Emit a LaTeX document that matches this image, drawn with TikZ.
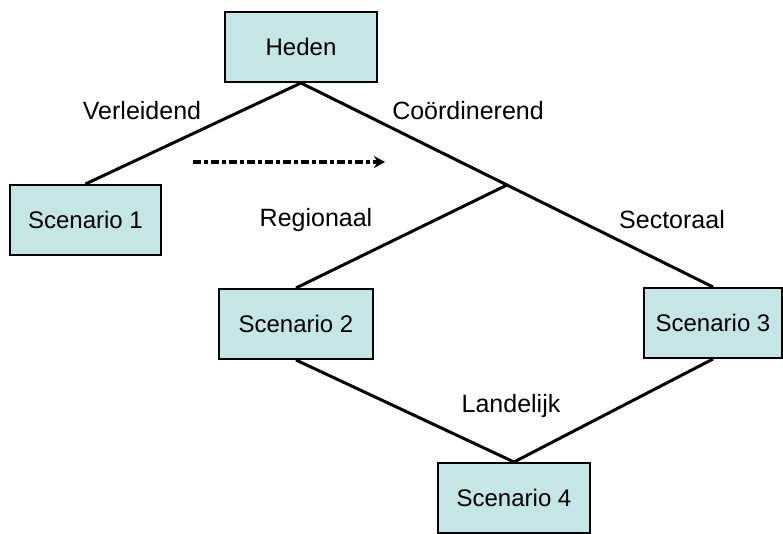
\documentclass[tikz,border=0pt]{standalone}
\usepackage{fontspec}
\setmainfont{Liberation Sans}
\usetikzlibrary{calc, arrows.meta, positioning}
\definecolor{boxcyan}{RGB}{198,229,231}

\begin{document}
\begin{tikzpicture}[x=1pt, y=-1pt,
    box/.style={draw, line width=2pt, fill=boxcyan, minimum width=152pt,
      minimum height=70pt, inner sep=0pt, font=\fontsize{24}{28}\selectfont},
    lbl/.style={inner sep=0pt, font=\fontsize{25}{30}\selectfont},
    branch/.style={line width=3pt}]
  \useasboundingbox (0,0) rectangle (783,534);

  % scenario boxes
  \node[box] (heden) at (301,47) {Heden};
  \node[box, minimum width=151pt] (scen1) at (85.5,220) {Scenario 1};
  \node[box, minimum width=154pt] (scen2) at (296,324) {Scenario 2};
  \node[box, minimum width=138pt] (scen3) at (713,323) {Scenario 3};
  \node[box] (scen4) at (514,498) {Scenario 4};

  % split point on the right branch
  \coordinate (junc) at ($(heden.south)!0.5!(scen3.north)$);

  % branches
  \draw[branch] (heden.south) -- (scen1.north);
  \draw[branch] (heden.south) -- (junc) -- (scen3.north);
  \draw[branch] (junc) -- (scen2.north);
  \draw[branch] (scen2.south) -- (scen4.north);
  \draw[branch] (scen3.south) -- (scen4.north);

  % branch labels
  \node[lbl] (verl) at (142,111) {Verleidend};
  \node[lbl] (coord) at (468,111) {Coördinerend};
  \node[lbl] (regio) at (316,220) {Regionaal};
  \node[lbl] (sector) at (672,220) {Sectoraal};
  \node[lbl] (land) at (511,406) {Landelijk};

  % dash-dot arrow
  \coordinate (dstart) at (193,162);
  \coordinate (dend) at (385,162);
  \draw[line width=4.5pt, dash pattern=on 8pt off 3pt on 4pt off 3pt,
    -{Stealth[length=11pt, width=12pt]}] (dstart) -- (dend);
\end{tikzpicture}
\end{document}
